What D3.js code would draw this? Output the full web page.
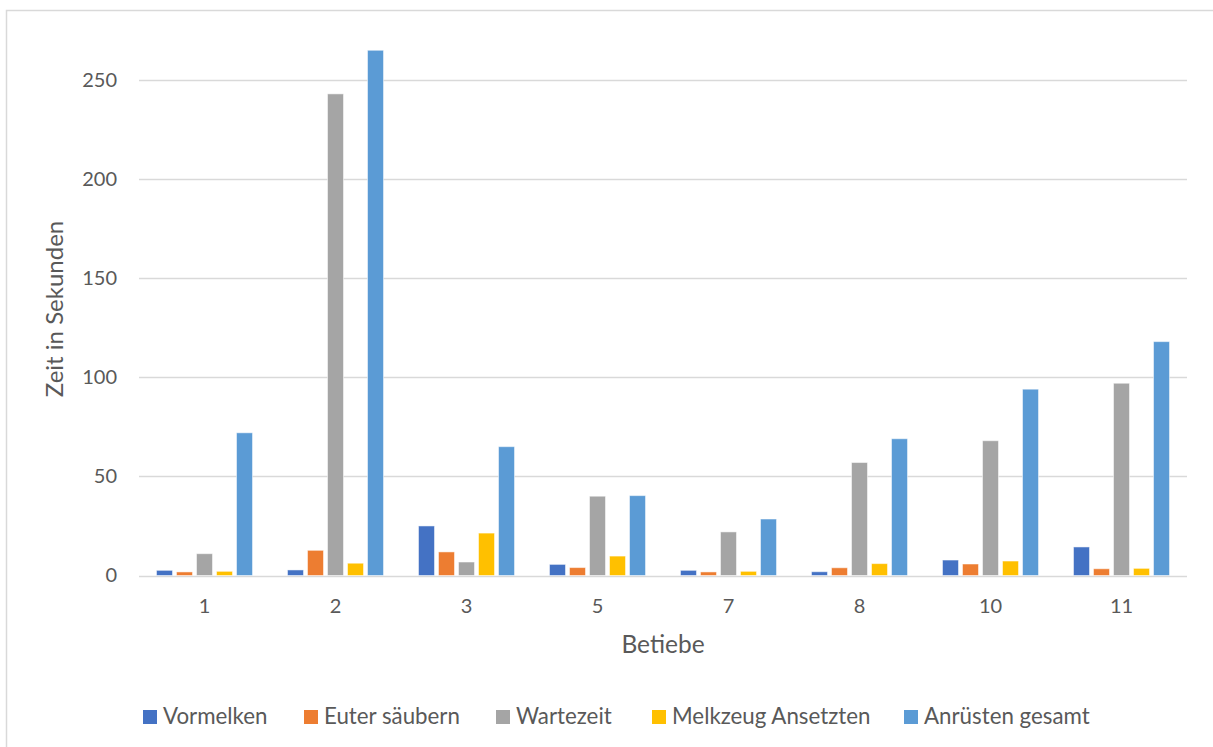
<!DOCTYPE html>
<html>
<head>
<meta charset="utf-8">
<script src="https://cdn.jsdelivr.net/npm/d3@7/dist/d3.min.js"></script>
<style>
  html, body { margin: 0; padding: 0; background: #fff; }
  svg { display: block; font-family: Lato, "Open Sans", sans-serif; }
</style>
</head>
<body>
<svg id="chart" width="1213" height="747"></svg>
<script>
// Betriebe (farms) shown on the x axis
const categories = ["1", "2", "3", "5", "7", "8", "10", "11"];

// Time components per farm, in seconds
const seriesNames = ["Vormelken", "Euter säubern", "Wartezeit", "Melkzeug Ansetzten", "Anrüsten gesamt"];
const vormelken    = [2.6, 2.8, 25, 5.6, 2.6, 1.9, 7.8, 14.4];
const euterSaubern = [1.8, 12.7, 11.9, 4, 1.8, 3.9, 5.8, 3.4];
const wartezeit    = [11, 243, 6.8, 40, 22, 57, 68, 97];
const melkzeug     = [2.1, 6.2, 21.4, 9.8, 2.1, 6, 7.3, 3.6];
const anruesten    = [72, 265, 65, 40.3, 28.5, 69, 94, 118];
const seriesValues = [vormelken, euterSaubern, wartezeit, melkzeug, anruesten];
const seriesColors = ["#4472C4", "#ED7D31", "#A5A5A5", "#FFC000", "#5B9BD5"];

const yTicks = [0, 50, 100, 150, 200, 250];

const svg = d3.select("#chart");
const textColor = "#595959";
const gridColor = "#d9d9d9";

// outer chart frame
svg.append("rect")
  .attr("x", 6.5).attr("y", 10.5)
  .attr("width", 1230).attr("height", 760)
  .attr("fill", "none").attr("stroke", gridColor).attr("stroke-width", 1.5);

const plot = { left: 139, right: 1187, top: 80, bottom: 575.5 };

const x0 = d3.scaleBand()
  .domain(categories)
  .range([plot.left, plot.right])
  .paddingInner(0.267)
  .paddingOuter(0.1335);

const x1 = d3.scaleBand()
  .domain(seriesNames)
  .range([0, x0.bandwidth()])
  .paddingInner(0.2);

const y = d3.scaleLinear()
  .domain([0, 250])
  .range([plot.bottom, plot.top]);

// horizontal gridlines
svg.append("g")
  .selectAll("line")
  .data(yTicks)
  .join("line")
  .attr("x1", plot.left).attr("x2", plot.right)
  .attr("y1", d => Math.round(y(d)) + 0.5)
  .attr("y2", d => Math.round(y(d)) + 0.5)
  .attr("stroke", gridColor).attr("stroke-width", 1.5);

// y tick labels
const yAxis = d3.axisLeft(y).tickValues(yTicks).tickSize(0).tickPadding(0);
const gy = svg.append("g")
  .attr("transform", `translate(${plot.left - 22},0)`)
  .call(yAxis);
gy.select(".domain").remove();
gy.selectAll("text")
  .attr("fill", textColor)
  .attr("font-size", 20)
  .attr("font-family", "Lato, 'Open Sans', sans-serif");

// bars
const rows = categories.map((c, i) => ({
  cat: c,
  vals: seriesNames.map((s, j) => ({ series: s, value: seriesValues[j][i], color: seriesColors[j] }))
}));

svg.append("g")
  .selectAll("g")
  .data(rows)
  .join("g")
  .attr("transform", d => `translate(${x0(d.cat)},0)`)
  .selectAll("rect")
  .data(d => d.vals)
  .join("rect")
  .attr("x", d => x1(d.series))
  .attr("width", x1.bandwidth())
  .attr("y", d => y(d.value))
  .attr("height", d => y(0) - y(d.value))
  .attr("fill", d => d.color)
  .attr("stroke", "#ffffff")
  .attr("stroke-opacity", 0.5)
  .attr("stroke-width", 1);

// x tick labels
const xAxis = d3.axisBottom(x0).tickSize(0).tickPadding(0);
const gx = svg.append("g")
  .attr("transform", `translate(0,${plot.bottom + 23})`)
  .call(xAxis);
gx.select(".domain").remove();
gx.selectAll("text")
  .attr("fill", textColor)
  .attr("font-size", 20)
  .attr("font-family", "Lato, 'Open Sans', sans-serif");

// axis titles
svg.append("text")
  .attr("x", 663)
  .attr("y", 653)
  .attr("text-anchor", "middle")
  .attr("fill", textColor)
  .attr("font-size", 24.5)
  .text("Betiebe");

svg.append("text")
  .attr("transform", "translate(63,309) rotate(-90)")
  .attr("text-anchor", "middle")
  .attr("fill", textColor)
  .attr("font-size", 24)
  .text("Zeit in Sekunden");

// legend
const legendX = [143, 304, 496, 652, 904];
const legend = svg.append("g")
  .selectAll("g")
  .data(seriesNames)
  .join("g")
  .attr("transform", (d, i) => `translate(${legendX[i]},710)`);
legend.append("rect")
  .attr("width", 14).attr("height", 14)
  .attr("fill", (d, i) => seriesColors[i]);
legend.append("text")
  .attr("x", 20).attr("y", 14)
  .attr("fill", textColor)
  .attr("font-size", 22.3)
  .text(d => d);
</script>
</body>
</html>
